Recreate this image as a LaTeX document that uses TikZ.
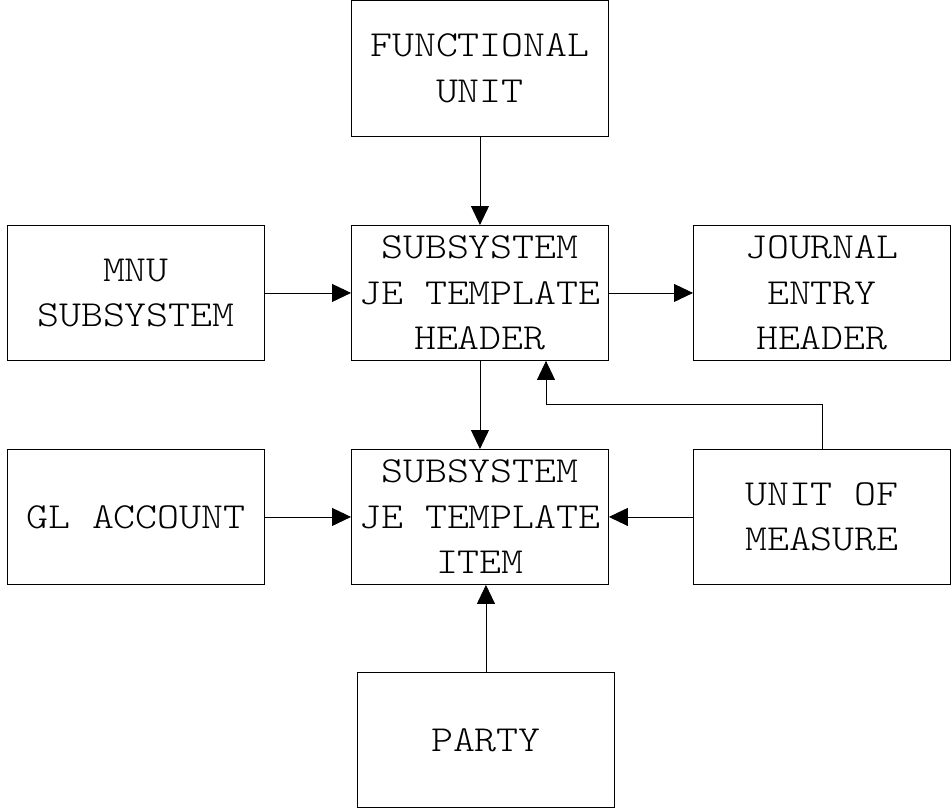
\documentclass[tikz,border=0pt]{standalone}
\usepackage{fontspec}
\setmonofont[FakeStretch=1.14]{lmmonolt10-regular.otf}
\usetikzlibrary{arrows.meta}
\begin{document}
\begin{tikzpicture}[x=1pt,y=-1pt,
  ebox/.style={draw,line width=0.9pt,minimum width=257pt,minimum height=135pt,inner sep=0pt,align=center,
    font=\fontsize{36.7}{45.5}\selectfont\ttfamily,anchor=north west},
  conn/.style={line width=0.9pt,-{Triangle[length=19pt,width=18pt]}}]
\useasboundingbox (0,0) rectangle (951,808);
\node[ebox] (fu) at (351,0.5) {FUNCTIONAL\\UNIT};
\node[ebox] (mnu) at (7,225) {MNU\\SUBSYSTEM};
\node[ebox] (hdr) at (351,225) {SUBSYSTEM\\JE TEMPLATE\\HEADER};
\node[ebox] (jeh) at (693,225) {JOURNAL\\ENTRY\\HEADER};
\node[ebox] (gl) at (7,449) {GL ACCOUNT};
\node[ebox] (item) at (351,449) {SUBSYSTEM\\JE TEMPLATE\\ITEM};
\node[ebox] (uom) at (693,449) {UNIT OF\\MEASURE};
\node[ebox] (party) at (357,672) {PARTY};
\coordinate (c1) at (822,404);
\coordinate (c2) at (546,404);
\draw[conn] (fu.south) -- (hdr.north);
\draw[conn] (mnu.east) -- (hdr.west);
\draw[conn] (hdr.east) -- (jeh.west);
\draw[conn] (hdr.south) -- (item.north);
\draw[conn] (gl.east) -- (item.west);
\draw[conn] (uom.west) -- (item.east);
\draw[conn] (party.north) -- (party.north |- item.south);
\draw[conn] (uom.north -| c1) -- (c1) -- (c2) -- (c2 |- hdr.south);
\end{tikzpicture}
\end{document}
